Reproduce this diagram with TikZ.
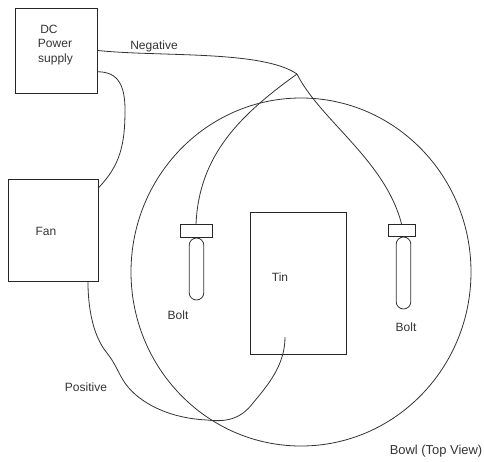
\documentclass[tikz,border=0pt]{standalone}
\usepackage{fontspec}
\setmainfont{Liberation Sans}
\usetikzlibrary{shapes.geometric}

\begin{document}
\begin{tikzpicture}[
  x=0.75pt, y=-0.75pt,
  font=\fontsize{9}{10}\selectfont,
  bx/.style={draw=black!85, line width=0.65pt, inner sep=0pt},
  boltcap/.style={bx, minimum height=9.4pt},
  bolt/.style={draw=black!80, line width=0.6pt, rounded corners=5.5pt, inner sep=0pt, minimum width=11pt},
  wire/.style={draw=black!80, line width=0.6pt},
  lbl/.style={text=black!80, inner sep=0pt}
]
\useasboundingbox (0,0) rectangle (484,461);
\node[draw=black!80, line width=0.6pt, ellipse, inner sep=0pt, minimum width=255pt, minimum height=261pt] (bowl) at (301,272) {};
\node[bx, minimum width=61.9pt, minimum height=63.8pt] (dc)  at (56.25,50.5) {};
\node[bx, minimum width=67.9pt, minimum height=76.5pt] (fan) at (53.25,230) {};
\node[bx, minimum width=72pt, minimum height=106.5pt]  (tin) at (298,283) {};
\node[boltcap, minimum width=24pt]   (capl) at (196,231) {};
\node[boltcap, minimum width=20.3pt] (capr) at (401.5,230.5) {};
\node[bolt, minimum height=46.5pt] (boltl) at (196.5,269) {};
\node[bolt, minimum height=54pt]   (boltr) at (403.5,273) {};
\node[lbl] (dctxt)  at (49,29)  {DC};
\node[lbl] (pwtxt)  at (55,43)  {Power};
\node[lbl] (sutxt)  at (55.5,59)  {supply};
\node[lbl] (negtxt) at (154,46) {Negative};
\node[lbl] (fantxt) at (46,231) {Fan};
\node[lbl] (tintxt) at (280,277) {Tin};
\node[lbl] (blltxt) at (178,315) {Bolt};
\node[lbl] (brrtxt) at (406,327) {Bolt};
\node[lbl] (postxt) at (86,387) {Positive};
\node[lbl, font=\fontsize{9.7}{10}\selectfont] (bwltxt) at (436,451) {Bowl (Top View)};
\coordinate (junc) at (297,74);
\coordinate (tinend) at (285,337);
\draw[wire] (dc.east) .. controls (160,57) and (262,50) .. (junc);
\draw[wire] (junc) .. controls (240,115) and (199,155) .. (capl.north);
\draw[wire] (junc) .. controls (320,120) and (385,160) .. (capr.north);
\draw[wire] (dc.-27) .. controls (118,72) and (125,85) .. (125,110) .. controls (125,145) and (120,165) .. (fan.43);
\draw[wire] (fan.-56) .. controls (88,305) and (92,335) .. (107,353) .. controls (115,363) and (118,372) .. (123,380)
  .. controls (135,400) and (165,418) .. (207,420) .. controls (225,422) and (240,420) .. (253,403)
  .. controls (268,385) and (285,365) .. (tinend);
\end{tikzpicture}
\end{document}
